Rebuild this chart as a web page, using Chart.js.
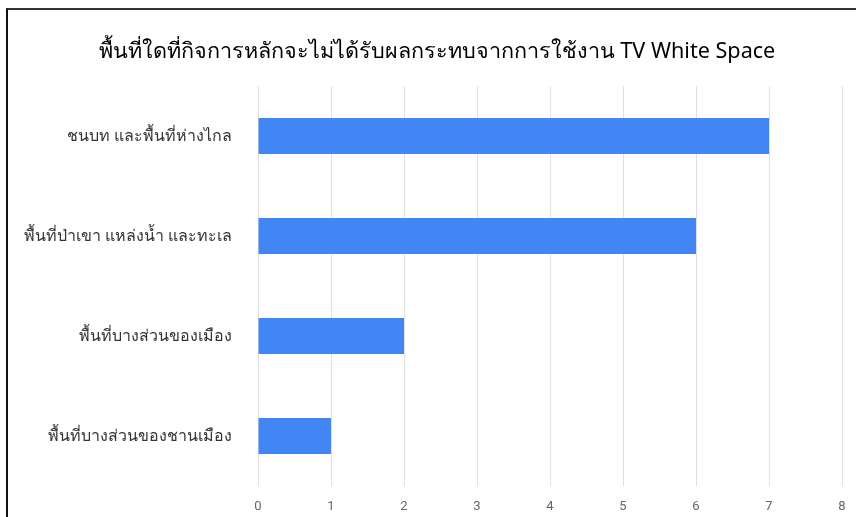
<!DOCTYPE html>
<html><head><meta charset="utf-8">
<script src="https://cdn.jsdelivr.net/npm/chart.js@4"></script>
<style>
html,body{margin:0;padding:0;background:#fff;}
#wrap{position:relative;width:856px;height:517px;}
#frame{position:absolute;left:6px;top:8px;right:0;bottom:0;border-left:2px solid #111;border-top:2px solid #333;pointer-events:none;}
canvas{position:absolute;left:0;top:0;}
</style></head>
<body><div id="wrap"><canvas id="c" width="856" height="517"></canvas><div id="frame"></div></div>
<script>
const titleText = 'พื้นที่ใดที่กิจการหลักจะไม่ได้รับผลกระทบจากการใช้งาน TV White Space';
const categories = ['ชนบท และพื้นที่ห่างไกล','พื้นที่ป่าเขา แหล่งน้ำ และทะเล','พื้นที่บางส่วนของเมือง','พื้นที่บางส่วนของชานเมือง'];
const values = [7, 6, 2, 1];
const xTicks = [0,1,2,3,4,5,6,7,8];

const shiftTitle = {
  id: 'shiftTitle',
  afterLayout(chart) { if (chart.titleBlock) chart.titleBlock.left += 32; }
};

new Chart(document.getElementById('c'), {
  type: 'bar',
  data: { labels: categories, datasets: [{ data: values, backgroundColor: '#4285f4', borderWidth: 0, barPercentage: 0.6, categoryPercentage: 0.6 }] },
  plugins: [shiftTitle],
  options: {
    indexAxis: 'y', responsive: false, animation: false,
    layout: { padding: { left: 0, right: 14, top: 0, bottom: 0 } },
    plugins: {
      legend: { display: false }, tooltip: { enabled: false },
      title: { display: true, text: titleText, color: '#000',
        font: { size: 21.6, weight: 'normal', family: 'Tahoma, "Noto Sans", sans-serif', lineHeight: 1.2 },
        padding: { top: 39, bottom: 21.08 } }
    },
    scales: {
      x: { min: 0, max: 8,
        afterBuildTicks: s => { s.ticks = xTicks.map(v => ({ value: v })); },
        afterFit: s => { s.height = 31; s.paddingRight = 0; s.paddingLeft = 0; },
        grid: { color: '#e0e0e0', drawTicks: false },
        border: { display: false },
        ticks: { color: '#666', padding: 13, font: { size: 13, family: 'Roboto, Arial, sans-serif' } } },
      y: {
        afterFit: s => { s.width = 258; s.paddingTop = 0; s.paddingBottom = 0; },
        grid: { display: false, drawTicks: false },
        border: { display: false },
        ticks: { color: '#333', padding: 26, font: { size: 16, family: 'Tahoma, "Noto Sans", sans-serif' } } }
    }
  }
});
</script></body></html>
